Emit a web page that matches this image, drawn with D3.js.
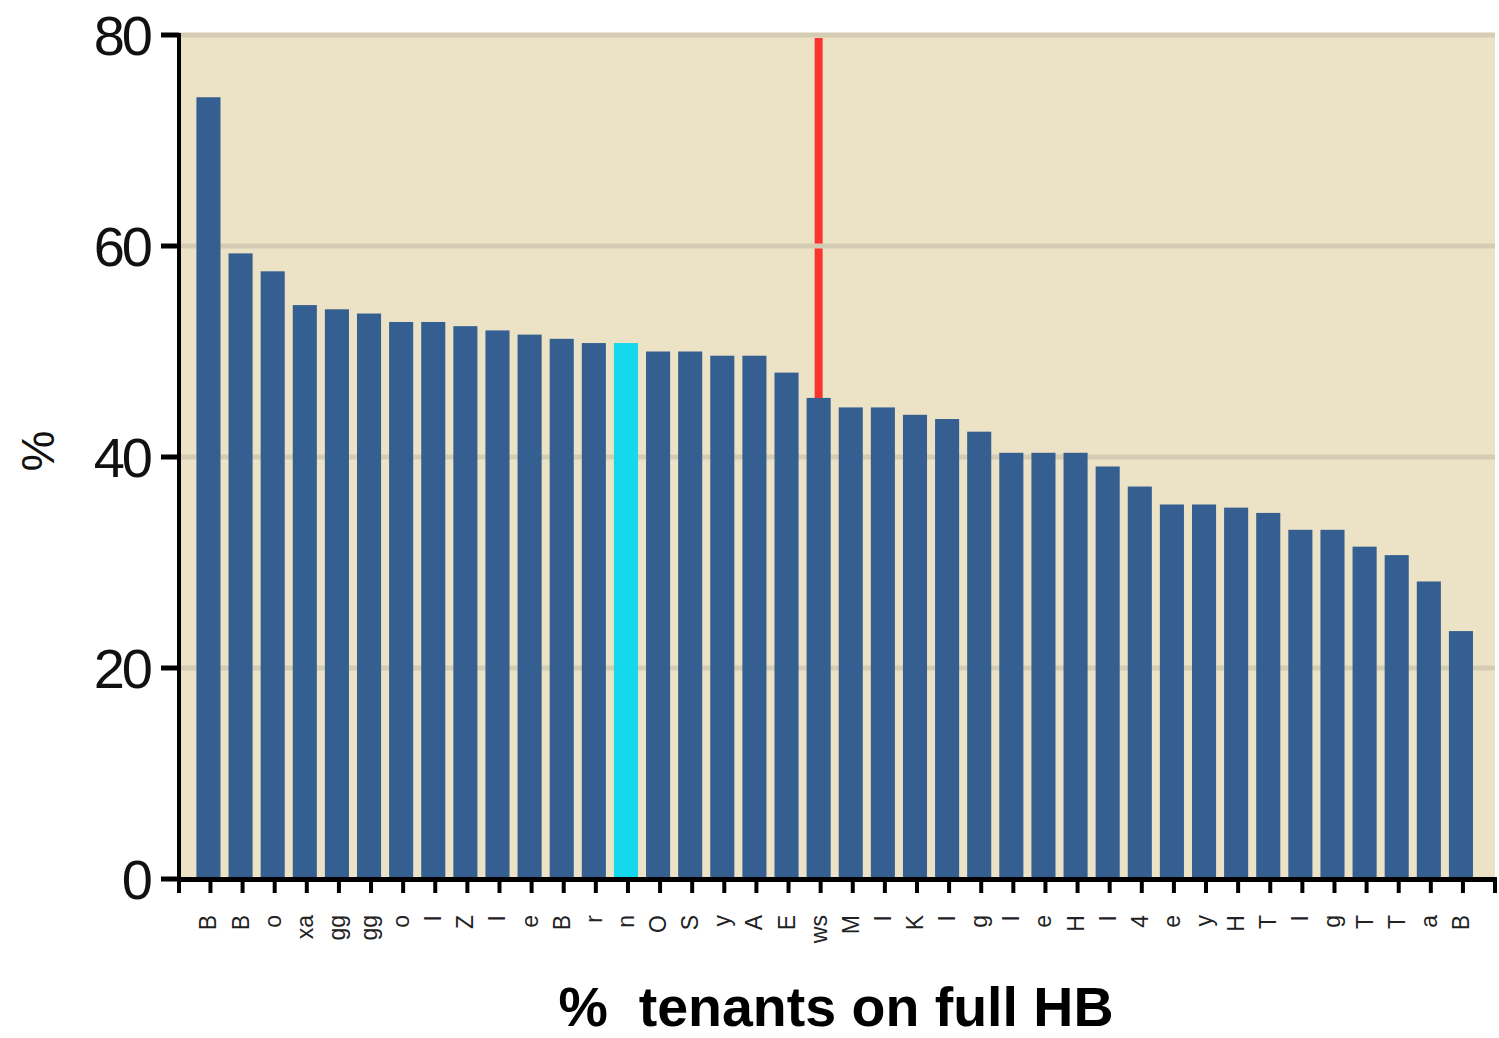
<!DOCTYPE html>
<html>
<head>
<meta charset="utf-8">
<script src="https://cdn.jsdelivr.net/npm/d3@7"></script>
<style>
  body { margin: 0; background: #fff; }
  svg { display: block; }
</style>
</head>
<body>
<div class="wrapper"></div>
<script>
// data
var categories = ["B","B","o","xa","gg","gg","o","I","Z","I","e","B","r","n","O","S","y","A","E","ws",
                  "M","I","K","I","g","I","e","H","I","4","e","y","H","T","I","g","T","T","a","B"];
var values = [74.1, 59.3, 57.6, 54.4, 54.0, 53.6, 52.8, 52.8, 52.4, 52.0,
              51.6, 51.2, 50.8, 50.8, 50.0, 50.0, 49.6, 49.6, 48.0, 45.6,
              44.7, 44.7, 44.0, 43.6, 42.4, 40.4, 40.4, 40.4, 39.1, 37.2,
              35.5, 35.5, 35.2, 34.7, 33.1, 33.1, 31.5, 30.7, 28.2, 23.5];
var highlightIndex = 13;   // cyan bar
var markerIndex = 19;      // red line
var yTicks = [0, 20, 40, 60, 80];

var W = 1499, H = 1038;
var plot = {left: 179, right: 1495, top: 33, bottom: 879};

var svg = d3.select('.wrapper').append('svg')
            .attr('width', W)
            .attr('height', H);

var x = d3.scaleBand()
          .domain(d3.range(values.length))
          .range([192.4, 1477])
          .paddingInner(0.25)
          .paddingOuter(0.125);

var y = d3.scaleLinear()
          .domain([0, 80])
          .range([879, 35]);

// background
svg.append('rect')
   .attr('x', plot.left).attr('y', plot.top)
   .attr('width', plot.right - plot.left)
   .attr('height', plot.bottom - plot.top)
   .attr('fill', '#ECE3C6');

// red marker line (behind the grid)
svg.append('line')
   .attr('x1', x(markerIndex) + x.bandwidth() / 2)
   .attr('x2', x(markerIndex) + x.bandwidth() / 2)
   .attr('y1', 38)
   .attr('y2', y(values[markerIndex]))
   .attr('stroke', '#FC3430')
   .attr('stroke-width', 8);

// gridlines
svg.selectAll('.grid')
   .data(yTicks.filter(d => d > 0))
   .enter().append('line')
   .attr('class', 'grid')
   .attr('x1', plot.left).attr('x2', plot.right)
   .attr('y1', d => y(d)).attr('y2', d => y(d))
   .attr('stroke', '#D4CDB4')
   .attr('stroke-width', 5);

// bars
svg.selectAll('.bar')
   .data(values)
   .enter().append('rect')
   .attr('class', 'bar')
   .attr('x', (d, i) => x(i))
   .attr('width', x.bandwidth())
   .attr('y', d => y(d))
   .attr('height', d => y(0) - y(d))
   .attr('fill', (d, i) => i === highlightIndex ? '#14D8EC' : '#365F91');

// y axis
svg.append('line')
   .attr('x1', 179).attr('x2', 179)
   .attr('y1', 33).attr('y2', 882)
   .attr('stroke', '#000').attr('stroke-width', 4);

svg.selectAll('.ytick')
   .data(yTicks)
   .enter().append('line')
   .attr('class', 'ytick')
   .attr('x1', 161).attr('x2', 179)
   .attr('y1', d => y(d)).attr('y2', d => y(d))
   .attr('stroke', '#000').attr('stroke-width', 5);

svg.selectAll('.ylab')
   .data(yTicks)
   .enter().append('text')
   .attr('class', 'ylab')
   .attr('x', 150)
   .attr('y', d => y(d))
   .attr('dy', '0.36em')
   .attr('text-anchor', 'end')
   .style('font-family', 'Liberation Sans, Arial, sans-serif')
   .style('font-size', '56px')
   .style('letter-spacing', '-3px')
   .attr('fill', '#111')
   .text(d => d);

svg.append('text')
   .attr('transform', 'translate(54,451) rotate(-90)')
   .attr('text-anchor', 'middle')
   .style('font-family', 'Liberation Sans, Arial, sans-serif')
   .style('font-size', '46px')
   .attr('fill', '#111')
   .text('%');

// x axis
svg.append('line')
   .attr('x1', 177).attr('x2', 1497)
   .attr('y1', 879.5).attr('y2', 879.5)
   .attr('stroke', '#000').attr('stroke-width', 5);

var xTickPos = [plot.left].concat(values.map((d, i) => x(i) + x.bandwidth() / 2 + 2), [plot.right]);
svg.selectAll('.xtick')
   .data(xTickPos)
   .enter().append('line')
   .attr('class', 'xtick')
   .attr('x1', d => d).attr('x2', d => d)
   .attr('y1', 879).attr('y2', 893)
   .attr('stroke', '#000').attr('stroke-width', 4);

svg.selectAll('.xlab')
   .data(categories)
   .enter().append('text')
   .attr('class', 'xlab')
   .attr('transform', (d, i) => 'translate(' + (x(i) + x.bandwidth() / 2 + 8) + ',915) rotate(-90)')
   .attr('text-anchor', 'end')
   .style('font-family', 'Liberation Sans, Arial, sans-serif')
   .style('font-size', '23px')
   .attr('fill', '#222')
   .text(d => d);

// title
svg.append('text')
   .attr('x', 836)
   .attr('y', 1026)
   .attr('text-anchor', 'middle')
   .attr('xml:space', 'preserve')
   .style('white-space', 'pre')
   .style('font-family', 'Liberation Sans, Arial, sans-serif')
   .style('font-weight', 'bold')
   .style('font-size', '55.5px')
   .attr('fill', '#000')
   .text('%  tenants on full HB');
</script>
</body>
</html>
